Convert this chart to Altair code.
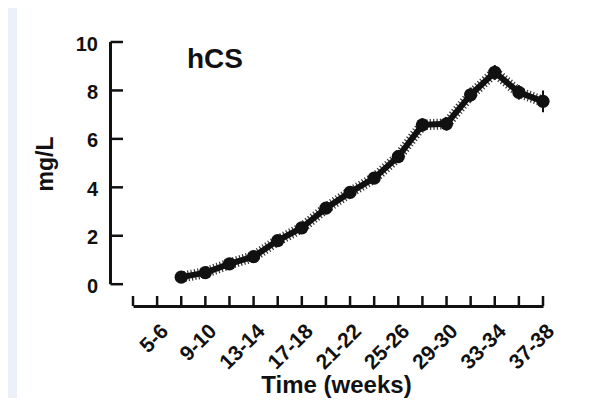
import altair as alt
import pandas as pd

# ---- data ----
all_weeks = ["3-4", "5-6", "7-8", "9-10", "11-12", "13-14", "15-16", "17-18", "19-20",
             "21-22", "23-24", "25-26", "27-28", "29-30", "31-32", "33-34", "35-36", "37-38"]
label_weeks = ["5-6", "9-10", "13-14", "17-18", "21-22", "25-26", "29-30", "33-34", "37-38"]
weeks = ["7-8", "9-10", "11-12", "13-14", "15-16", "17-18", "19-20", "21-22",
         "23-24", "25-26", "27-28", "29-30", "31-32", "33-34", "35-36", "37-38"]
hcs = [0.29, 0.48, 0.84, 1.14, 1.80, 2.33, 3.14, 3.79,
       4.38, 5.27, 6.58, 6.62, 7.82, 8.75, 7.92, 7.55]
sem = [0.08, 0.08, 0.10, 0.10, 0.15, 0.18, 0.20, 0.20,
       0.22, 0.25, 0.28, 0.28, 0.30, 0.30, 0.30, 0.45]
y_ticks = [0, 2, 4, 6, 8, 10]
panel_label = ["hCS"]

df = pd.DataFrame({"week": weeks, "hcs": hcs, "sem": sem, "idx": list(range(len(weeks)))})
df["lo"] = df["hcs"] - df["sem"]
df["hi"] = df["hcs"] + df["sem"]
ticks_x = pd.DataFrame({"week": all_weeks})
ticks_y = pd.DataFrame({"hcs": y_ticks})
yline = pd.DataFrame({"hcs": [min(y_ticks)], "top": [max(y_ticks)]})

W, H = 410, 264
INK = "#111111"
FONT = "Liberation Sans"

xs = alt.Scale(type="point", domain=all_weeks, padding=0)
ys = alt.Scale(domain=[-0.9, 10], nice=False, zero=False)

x_axis = alt.Axis(values=label_weeks, title="Time (weeks)", labelAngle=315,
                  labelAlign="right", labelBaseline="top", labelFontSize=21,
                  labelFontWeight="bold", labelPadding=14, ticks=False, tickSize=0,
                  domainColor=INK, domainWidth=3, titleFontSize=24, titleFontWeight="bold",
                  titleBaseline="alphabetic", titleAlign="center", titleX=W / 2 - 2, titleY=86,
                  labelColor=INK, titleColor=INK, grid=False, labelOverlap=False)
y_axis = alt.Axis(values=y_ticks, title="mg/L", domain=False, ticks=False, tickSize=0,
                  labelPadding=13, offset=22.5, labelFontSize=20, labelFontWeight="bold",
                  labelOffset=2, titleAngle=270, titleX=-58.5, titleY=121.5,
                  titleAlign="center", titleBaseline="alphabetic", titleFontSize=23,
                  titleFontWeight="bold", labelColor=INK, titleColor=INK, grid=False,
                  labelOverlap=False, labelFlush=False)

X = alt.X("week:N", scale=xs, axis=x_axis, title="Time (weeks)")
Y = alt.Y("hcs:Q", scale=ys, axis=y_axis, title="mg/L")

# fuzzy band of overlapping error ticks along the curve
fuzz = alt.Chart(df).mark_line(color=INK, strokeWidth=11, strokeDash=[1.2, 2.2],
                               opacity=0.85).encode(x=X, y=Y, order=alt.Order("idx:Q"))

line = alt.Chart(df).mark_line(color=INK, strokeWidth=6).encode(
    x=X, y=Y, order=alt.Order("idx:Q"))

err = alt.Chart(df).mark_rule(color=INK, strokeWidth=2).encode(
    x=X, y=alt.Y("lo:Q", scale=ys, axis=y_axis, title="mg/L"), y2="hi:Q")

pts = alt.Chart(df).mark_circle(color=INK, size=175, opacity=1).encode(x=X, y=Y)

xticks = alt.Chart(ticks_x).mark_rule(color=INK, strokeWidth=2.5).encode(
    x=X, y=alt.value(H), y2=alt.value(H - 10))

yaxis_line = alt.Chart(yline).mark_rule(color=INK, strokeWidth=3).encode(
    x=alt.value(-22.5), y=Y, y2="top:Q")

yticks = alt.Chart(ticks_y).mark_rule(color=INK, strokeWidth=2.5).encode(
    x=alt.value(-22.5), x2=alt.value(-10), y=Y)

label = alt.Chart(pd.DataFrame({"t": panel_label})).mark_text(
    align="left", baseline="alphabetic", fontSize=28, fontWeight="bold",
    font=FONT, color=INK).encode(
    x=alt.value(54), y=alt.value(26), text="t:N")

strip = alt.Chart(pd.DataFrame({"a": [0]})).mark_rect(color="#ECF0F8").encode(
    x=alt.value(-125), x2=alt.value(-116), y=alt.value(-34), y2=alt.value(H + 100))

chart = alt.layer(line, fuzz, err, pts, xticks, yaxis_line, yticks, label, strip).properties(
    width=W, height=H,
    autosize=alt.AutoSizeParams(type="none"),
    padding={"left": 125, "top": 34, "right": 38, "bottom": 92},
    background="white",
).configure_view(stroke=None).configure_axis(labelFont=FONT, titleFont=FONT)

chart.save("out.html", embed_options={"renderer": "svg", "actions": False})
